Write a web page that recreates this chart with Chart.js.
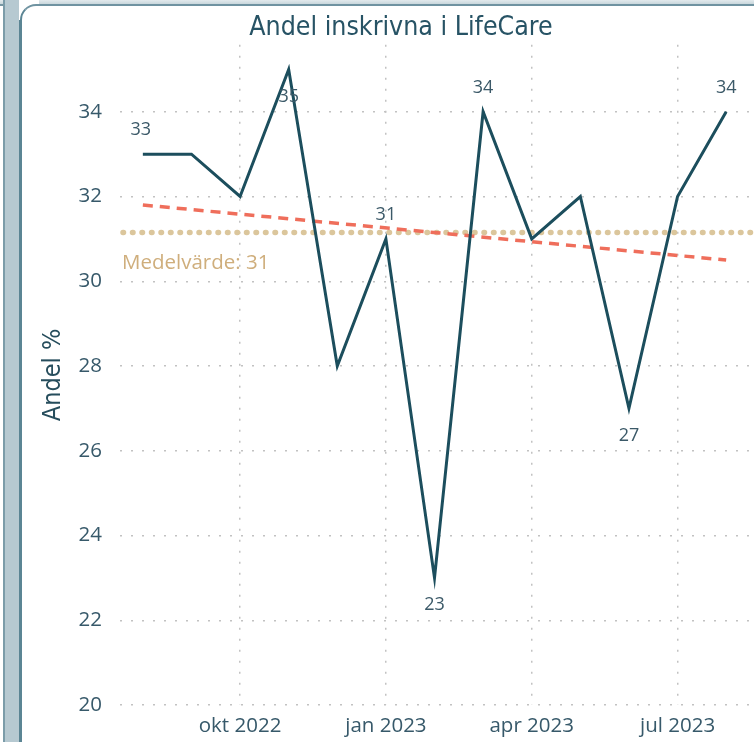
<!DOCTYPE html>
<html>
<head>
<meta charset="utf-8">
<script src="https://cdn.jsdelivr.net/npm/chart.js@4.4.0/dist/chart.umd.min.js"></script>
<style>
  html, body { margin: 0; padding: 0; background: #fff; width: 754px; height: 742px; overflow: hidden; }
  #box { position: absolute; left: 0; top: 0; width: 802px; height: 742px; }
  .topstrip { position: absolute; left: 0; top: 0; width: 754px; height: 4px; background: linear-gradient(#e3eaed, #c9d7dc); border-bottom: 2px solid #7797a3; }
  .leftbar { position: absolute; left: 3px; top: 0; width: 14px; height: 742px; background: #b6c9d1; border-left: 2px solid #7b9ca9; border-right: 2px solid #5b8594; }
  .card { position: absolute; left: 20px; top: 4px; width: 760px; height: 760px; background: transparent; border-top: 2px solid #6f93a1; border-left: 2px solid #5b8594; border-top-left-radius: 16px; }
  .corner { position: absolute; left: 19px; top: 0; width: 20px; height: 20px; background: #fff; }
</style>
</head>
<body>
<div id="box"><canvas id="myChart" width="802" height="742"></canvas></div>
<div class="topstrip"></div>
<div class="leftbar"></div>
<div class="corner"></div>
<div class="card"></div>
<script>
var ctx = document.getElementById('myChart').getContext('2d');

// Data
var months = ['aug 2022', 'sep 2022', 'okt 2022', 'nov 2022', 'dec 2022', 'jan 2023', 'feb 2023',
              'mar 2023', 'apr 2023', 'maj 2023', 'jun 2023', 'jul 2023', 'aug 2023'];
var andel = [33, 33, 32, 35, 28, 31, 23, 34, 31, 32, 27, 32, 34];
var shownLabels = [33, null, null, 35, null, 31, 23, 34, null, null, 27, null, 34];
var trend = [31.8, 30.5];          // first and last month
var medelvarde = 31.15;
var medelText = 'Medelvärde: 31';
var xTickLabels = ['okt 2022', 'jan 2023', 'apr 2023', 'jul 2023'];
var yTicks = [20, 22, 24, 26, 28, 30, 32, 34];

var tickFont = { family: '"Open Sans", "Noto Sans", sans-serif', size: 20.5 };
var tickColor = '#37596a';
var gridColor = '#c2c2c2';
var dinFont = '"DejaVu Sans Condensed", "DejaVu Sans", sans-serif';

// mean line + labels on the points
var extras = {
  id: 'extras',
  beforeDatasetsDraw: function(chart) {
    var c = chart.ctx, a = chart.chartArea;
    var y = chart.scales.y.getPixelForValue(medelvarde);
    c.save();
    c.strokeStyle = '#dbc69c';
    c.lineWidth = 5.5;
    c.lineCap = 'round';
    c.setLineDash([0.5, 9]);
    c.beginPath();
    c.moveTo(a.left + 3, y);
    c.lineTo(a.right, y);
    c.stroke();
    c.setLineDash([]);
    c.font = '20.5px "Open Sans", sans-serif';
    c.fillStyle = '#cfae7c';
    c.textAlign = 'left';
    c.textBaseline = 'middle';
    c.fillText(medelText, a.left + 2, y + 31);
    c.restore();
  },
  afterDatasetsDraw: function(chart) {
    var c = chart.ctx;
    var xs = chart.scales.x, ys = chart.scales.y;
    c.save();
    c.font = '18px "Open Sans", sans-serif';
    c.fillStyle = '#3b5968';
    c.textAlign = 'center';
    c.textBaseline = 'middle';
    shownLabels.forEach(function(l, i) {
      if (l === null) return;
      var below = (i > 0 && i < andel.length - 1 && andel[i - 1] > andel[i] && andel[i + 1] > andel[i]) || andel[i] >= 35;
      var px = xs.getPixelForValue(i), py = ys.getPixelForValue(andel[i]);
      c.fillText(String(l), px - (i === 0 ? 2 : 0), below ? py + 27 : py - 24);
    });
    c.restore();
  }
};

var myChart = new Chart(ctx, {
  type: 'line',
  data: {
    datasets: [{
      label: 'Andel',
      data: andel.map(function(v, i) { return { x: i, y: v }; }),
      borderColor: '#1c4e5d',
      borderWidth: 3,
      pointRadius: 0,
      tension: 0
    }, {
      label: 'Trend',
      data: [{ x: 0, y: trend[0] }, { x: months.length - 1, y: trend[1] }],
      borderColor: '#ef6e5b',
      borderWidth: 3.5,
      borderDash: [10, 7],
      pointRadius: 0
    }]
  },
  options: {
    responsive: false,
    animation: false,
    layout: { padding: 0 },
    plugins: {
      legend: { display: false },
      tooltip: { enabled: false },
      title: {
        display: true,
        text: 'Andel inskrivna i LifeCare',
        color: '#275365',
        font: { family: dinFont, size: 26.5, weight: 'normal' },
        padding: { top: 12, bottom: 1 }
      }
    },
    scales: {
      x: {
        type: 'linear',
        min: -0.47,
        max: 13.56,
        afterBuildTicks: function(scale) {
          scale.ticks = xTickLabels.map(function(l) { return { value: months.indexOf(l) }; });
        },
        afterFit: function(scale) { scale.height = 37; },
        ticks: {
          callback: function(v) { return months[v]; },
          color: tickColor,
          font: tickFont,
          padding: 9,
          maxRotation: 0,
          autoSkip: false
        },
        grid: { color: gridColor, lineWidth: 1.5, drawTicks: false },
        border: { display: false, dash: [2, 9] }
      },
      y: {
        min: 20,
        max: 35.58,
        afterBuildTicks: function(scale) {
          scale.ticks = yTicks.map(function(v) { return { value: v }; });
        },
        afterFit: function(scale) { scale.width = 120; },
        ticks: { color: tickColor, font: tickFont, padding: 18 },
        grid: { color: gridColor, lineWidth: 1.5, drawTicks: false },
        border: { display: false, dash: [2, 9] },
        title: {
          display: true,
          text: 'Andel %',
          color: '#264d5c',
          font: { family: dinFont, size: 25 },
          padding: { top: 38, bottom: 0 }
        }
      }
    }
  },
  plugins: [extras]
});
</script>
</body>
</html>
